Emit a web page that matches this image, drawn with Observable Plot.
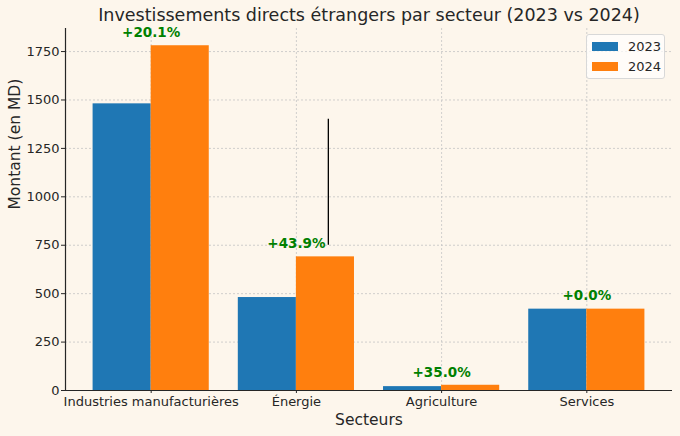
<!DOCTYPE html>
<html><head><meta charset="utf-8">
<script src="https://cdn.jsdelivr.net/npm/d3@7"></script>
<script src="https://cdn.jsdelivr.net/npm/@observablehq/plot@0.6"></script>
<style>
body{margin:0;background:#fdf6ec;font-family:"DejaVu Sans",sans-serif;}
#wrap{position:relative;width:680px;height:436px;}
.legend{position:absolute;left:586px;top:34px;width:79px;height:45px;border:1px solid #d8d8d8;border-radius:3px;background:rgba(255,255,255,0.7);box-sizing:border-box;font:13px "DejaVu Sans",sans-serif;color:#262626;}
.legend .row{position:absolute;left:5px;height:16px;display:flex;align-items:center;}
.legend .sw{width:26px;height:9px;margin-right:10px;}
</style></head><body><div id="wrap"></div>
<script>
const categories = ["Industries manufacturières","Énergie","Agriculture","Services"];
const years = ["2023","2024"];
const values2023 = [1480,480,20,420];
const values2024 = [1780,690,27,420];
const pctLabels = ["+20.1%","+43.9%","+35.0%","+0.0%"];
const colors = ["#1f77b4","#ff7f0e"];
const yTicks = [0,250,500,750,1000,1250,1500,1750];
const xDomain = [-0.59, 3.59];
const yDomain = [0, 1869];
const annotation = [{x: 1.22, y1: 750, y2: 1400}];
const title = "Investissements directs étrangers par secteur (2023 vs 2024)";

const bars = categories.flatMap((c,i)=>[
  {i, year:"2023", x1:i-0.4, x2:i, v:values2023[i]},
  {i, year:"2024", x1:i, x2:i+0.4, v:values2024[i]}
]);
const labels = categories.map((c,i)=>({i, top: Math.max(values2023[i], values2024[i]), label: pctLabels[i]}));

const chart = Plot.plot({
  width: 680, height: 436,
  marginTop: 28, marginBottom: 46, marginLeft: 65, marginRight: 8,
  style: {background: "#fdf6ec", fontFamily: "DejaVu Sans, sans-serif", fontSize: "13px", color: "#262626"},
  x: {type: "linear", domain: xDomain},
  y: {domain: yDomain},
  color: {domain: years, range: colors},
  marks: [
    Plot.gridY({ticks: yTicks, stroke: "#c4c4c4", strokeOpacity: 0.8, strokeDasharray: "2,2"}),
    Plot.gridX({ticks: [0,1,2,3], stroke: "#c4c4c4", strokeOpacity: 0.8, strokeDasharray: "2,2"}),
    Plot.rectY(bars, {x1: "x1", x2: "x2", y: "v", fill: "year"}),
    Plot.ruleX(annotation, {x: "x", y1: "y1", y2: "y2", stroke: "black", strokeWidth: 1.3}),
    Plot.text(labels, {x: "i", y: "top", text: "label", dy: -13, fill: "green", fontWeight: "bold", fontSize: 13.5}),
    Plot.axisY({ticks: yTicks, tickFormat: d => String(d), tickSize: 4, tickPadding: 2, label: null, fontSize: 13}),
    Plot.axisX({ticks: [0,1,2,3], tickFormat: i => categories[i], tickSize: 3, tickPadding: 3, label: null, fontSize: 13}),
    Plot.ruleY([0], {stroke: "#262626", strokeWidth: 1.2}),
    Plot.ruleX([xDomain[0]], {stroke: "#262626", strokeWidth: 1.2}),
    Plot.text([title], {frameAnchor: "top", lineAnchor: "middle", dy: -13, fontSize: 17.5, fill: "#262626"}),
    Plot.text(["Secteurs"], {frameAnchor: "bottom", lineAnchor: "middle", dy: 30, fontSize: 15.5, fill: "#262626"}),
    Plot.text(["Montant (en MD)"], {frameAnchor: "left", lineAnchor: "middle", dx: -50, rotate: -90, fontSize: 15.5, fill: "#262626"})
  ]
});
const wrap = document.getElementById("wrap");
wrap.appendChild(chart);
const leg = document.createElement("div");
leg.className = "legend";
years.forEach((y,k)=>{
  const r = document.createElement("div");
  r.className = "row";
  r.style.top = (3 + k*20) + "px";
  r.innerHTML = `<span class="sw" style="background:${colors[k]}"></span><span>${y}</span>`;
  leg.appendChild(r);
});
wrap.appendChild(leg);
</script></body></html>
